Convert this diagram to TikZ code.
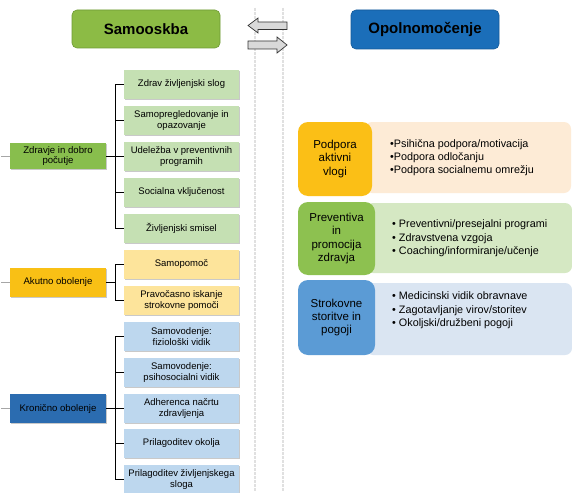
\documentclass[tikz,border=0pt]{standalone}
\usepackage{fontspec}
\setmainfont{Liberation Sans}
\usetikzlibrary{shadows}
\definecolor{samgreen}{HTML}{8CBB45}
\definecolor{samgreenD}{HTML}{6E9A35}
\definecolor{opblue}{HTML}{1B6EB9}
\definecolor{opblueD}{HTML}{155A99}
\definecolor{pgreen}{HTML}{88BE4D}
\definecolor{cgreen}{HTML}{C5E0B3}
\definecolor{pyellow}{HTML}{F9C015}
\definecolor{cyellow}{HTML}{FDE49B}
\definecolor{pblue}{HTML}{2B6CB0}
\definecolor{cblue}{HTML}{BDD7EE}
\definecolor{rorange}{HTML}{FBBF16}
\definecolor{rpale1}{HTML}{FDEBD6}
\definecolor{rgreen}{HTML}{8DC150}
\definecolor{rpale2}{HTML}{D5E8C3}
\definecolor{rblue}{HTML}{5B9BD5}
\definecolor{rpale3}{HTML}{DAE5F2}
\definecolor{arrowfill}{HTML}{D9D9D9}
\tikzset{
  header/.style={draw, line width=0.6pt, rounded corners=5pt, minimum width=148pt, minimum height=38pt,
    font=\fontsize{15}{18}\selectfont\bfseries, inner sep=0pt},
  sh/.style={drop shadow={shadow xshift=1.2pt, shadow yshift=-1.2pt, opacity=0.35, fill=black!60}},
  parentbox/.style={sh, minimum width=96pt, minimum height=27pt, inner sep=0pt, align=center,
    font=\fontsize{9.6}{10.8}\selectfont},
  childbox/.style={sh, minimum width=115pt, minimum height=29pt, inner sep=0pt, align=center,
    font=\fontsize{9.5}{10.8}\selectfont},
  rightbox/.style={rounded corners=10pt, minimum width=76pt, inner sep=0pt, align=center,
    font=\fontsize{11.5}{13.3}\selectfont},
  palebox/.style={rounded corners=7pt, minimum width=206pt, inner sep=0pt},
  bullets/.style={anchor=west, align=left, inner sep=0pt, font=\fontsize{10.8}{13.3}\selectfont},
  treeline/.style={draw=black, line width=1pt},
  sepline/.style={draw=black!12, line width=1.6pt, dash pattern=on 3pt off 1pt},
  blockarrow/.style={draw=black!80, fill=arrowfill, line width=0.7pt, line join=miter},
  stub/.style={draw=black!35, line width=0.8pt}
}
\begin{document}
\begin{tikzpicture}[x=1pt,y=-1pt]
\useasboundingbox[fill=white] (0,0) rectangle (572,492);

% separator lines
\draw[sepline] (255,8) -- (255,492);
\draw[sepline] (283,8) -- (283,492);

% arrows
\draw[blockarrow] (248,25.5) -- (258,18) -- (258,22) -- (287,22) -- (287,29.5) -- (258,29.5) -- (258,33) -- cycle;
\draw[blockarrow] (287,45) -- (277,37) -- (277,41) -- (248,41) -- (248,49) -- (277,49) -- (277,53) -- cycle;

% headers
\node[header, fill=samgreen, draw=samgreenD] (sam) at (146,29) {Samooskba};
\node[header, fill=opblue, draw=opblueD, minimum height=39pt] (opo) at (425,29.5) {Opolnomočenje};

% left tree: parents
\node[parentbox, fill=pgreen, minimum height=26pt] (zd) at (58,156) {Zdravje in dobro\\počutje};
\node[parentbox, fill=pyellow, minimum height=29pt] (ak) at (58,282.5) {Akutno obolenje};
\node[parentbox, fill=pblue, minimum height=29pt] (kr) at (58,408.5) {Kronično obolenje};

% stubs at left
\coordinate (s1) at (1,156);
\coordinate (s2) at (1,282.5);
\coordinate (s3) at (1,408.5);
\draw[stub] (s1) -- (zd.west);
\draw[stub] (s2) -- (ak.west);
\draw[stub] (s3) -- (kr.west);

% children green
\node[childbox, fill=cgreen] (g1) at (181.5,84.5) {Zdrav življenjski slog};
\node[childbox, fill=cgreen] (g2) at (181.5,120.5) {Samopregledovanje in\\opazovanje};
\node[childbox, fill=cgreen] (g3) at (181.5,156.5) {Udeležba v preventivnih\\programih};
\node[childbox, fill=cgreen] (g4) at (181.5,192.5) {Socialna vključenost};
\node[childbox, fill=cgreen] (g5) at (181.5,228.5) {Življenjski smisel};
% children yellow
\node[childbox, fill=cyellow] (y1) at (181.5,264.5) {Samopomoč};
\node[childbox, fill=cyellow] (y2) at (181.5,300.5) {Pravočasno iskanje\\strokovne pomoči};
% children blue
\node[childbox, fill=cblue] (b1) at (181.5,336.5) {Samovodenje:\\fiziološki vidik};
\node[childbox, fill=cblue] (b2) at (181.5,372.5) {Samovodenje:\\psihosocialni vidik};
\node[childbox, fill=cblue] (b3) at (181.5,408.5) {Adherenca načrtu\\zdravljenja};
\node[childbox, fill=cblue] (b4) at (181.5,443.5) {Prilagoditev okolja};
\node[childbox, fill=cblue] (b5) at (181.5,479.5) {Prilagoditev življenjskega\\sloga};

% tree connectors
\coordinate (j1) at (115,156);
\coordinate (j2) at (115,282.5);
\coordinate (j3) at (115,408.5);
\draw[treeline] (zd.east) -- (j1);
\foreach \c in {g1,g2,g3,g4,g5} \draw[treeline] (j1) |- (\c.west);
\draw[treeline] (ak.east) -- (j2);
\foreach \c in {y1,y2} \draw[treeline] (j2) |- (\c.west);
\draw[treeline] (kr.east) -- (j3);
\foreach \c in {b1,b2,b3,b4,b5} \draw[treeline] (j3) |- (\c.west);

% right side pale boxes
\node[palebox, fill=rpale1, minimum height=71pt] (p1) at (468,157.5) {};
\node[palebox, fill=rpale2, minimum height=70pt] (p2) at (469,238) {};
\node[palebox, fill=rpale3, minimum height=72pt] (p3) at (469,319) {};

% right side colored boxes
\node[rightbox, fill=rorange, minimum width=74pt, minimum height=74pt] (r1) at (335,159) {Podpora\\aktivni\\vlogi};
\node[rightbox, fill=rgreen, minimum width=77pt, minimum height=73pt] (r2) at (336.5,238.5) {Preventiva\\in\\promocija\\zdravja};
\node[rightbox, fill=rblue, minimum width=77pt, minimum height=75pt] (r3) at (336.5,317.5) {Strokovne\\storitve in\\pogoji};

% bullets
\node[bullets] (t1) at (390,157.5) {\textbullet Psihična podpora/motivacija\\\textbullet Podpora odločanju\\\textbullet Podpora socialnemu omrežju};
\node[bullets] (t2) at (392,238.5) {\textbullet{} Preventivni/presejalni programi\\\textbullet{} Zdravstvena vzgoja\\\textbullet{} Coaching/informiranje/učenje};
\node[bullets] (t3) at (392,310.5) {\textbullet{} Medicinski vidik obravnave\\\textbullet{} Zagotavljanje virov/storitev\\\textbullet{} Okoljski/družbeni pogoji};
\end{tikzpicture}
\end{document}
